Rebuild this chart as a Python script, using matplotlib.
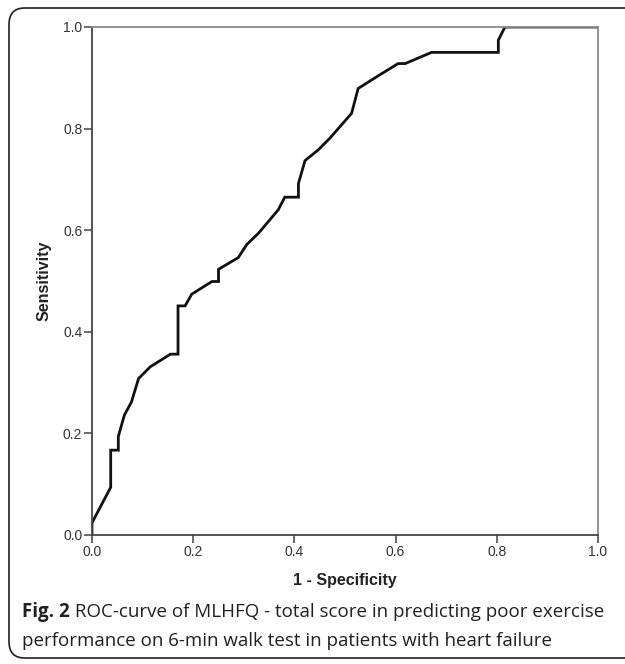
import matplotlib
matplotlib.use("Agg")
import matplotlib.pyplot as plt
from matplotlib.patches import FancyBboxPatch

# ROC curve points
fpr = [0, 0, 0.037, 0.037, 0.052, 0.052, 0.064, 0.078, 0.092, 0.115,
       0.155, 0.170, 0.170, 0.184, 0.197, 0.237, 0.250, 0.250, 0.289, 0.306,
       0.329, 0.368, 0.381, 0.408, 0.408, 0.421, 0.447, 0.470, 0.513, 0.526,
       0.569, 0.605, 0.619, 0.671, 0.803, 0.803, 0.816, 1.0]
tpr = [0, 0.024, 0.094, 0.167, 0.167, 0.194, 0.236, 0.262, 0.308, 0.331,
       0.356, 0.356, 0.451, 0.451, 0.474, 0.499, 0.499, 0.523, 0.546, 0.572,
       0.594, 0.640, 0.665, 0.665, 0.692, 0.737, 0.758, 0.781, 0.830, 0.879,
       0.906, 0.928, 0.928, 0.950, 0.950, 0.974, 1.0, 1.0]

ticks = [0.0, 0.2, 0.4, 0.6, 0.8, 1.0]
tick_labels = ["0.0", "0.2", "0.4", "0.6", "0.8", "1.0"]

caption_bold = "Fig. 2"
caption_line1 = " ROC-curve of MLHFQ - total score in predicting poor exercise"
caption_line2 = "performance on 6-min walk test in patients with heart failure"

W, H = 625, 664
fig = plt.figure(figsize=(W / 100, H / 100), dpi=100)

# rounded frame round the whole figure (right edge runs off the image)
frame = FancyBboxPatch((9 / W, 6 / H), 660 / W, 650 / H,
                       boxstyle="round,pad=0,rounding_size=0.025",
                       transform=fig.transFigure, fill=False,
                       edgecolor="#231f20", linewidth=1.2)
fig.patches.append(frame)

ax = fig.add_axes([92 / W, 1 - 535 / H, 506 / W, 508 / H])
ax.plot(fpr, tpr, color="#111111", linewidth=2.0, solid_joinstyle="miter")
ax.set_xlim(0, 1)
ax.set_ylim(0, 1)
ax.set_xticks(ticks)
ax.set_xticklabels(tick_labels)
ax.set_yticks(ticks)
ax.set_yticklabels(tick_labels)
ax.tick_params(direction="out", length=6, width=1.1, colors="#444444",
               labelcolor="#333333", labelsize=10, pad=1)
for name in ["left", "bottom"]:
    ax.spines[name].set_color("#444444")
    ax.spines[name].set_linewidth(1.3)
for name in ["top", "right"]:
    ax.spines[name].set_color("#8a8a8a")
    ax.spines[name].set_linewidth(1.3)

ax.set_xlabel("1 - Specificity", fontsize=11.5, fontweight="bold",
              family="Liberation Sans", color="#222222", labelpad=10)
ax.set_ylabel("Sensitivity", fontsize=11.5, fontweight="bold",
              family="Liberation Sans", color="#222222", labelpad=8)
for lab in ax.get_xticklabels() + ax.get_yticklabels():
    lab.set_family("Liberation Sans")

# caption with bold "Fig. 2" followed by regular text
cap_kw = dict(fontsize=13.5, family="Open Sans", color="#231f20", va="baseline")
t = fig.text(22 / W, 1 - 617 / H, caption_bold, fontweight="bold", **cap_kw)
fig.canvas.draw()
bb = t.get_window_extent(renderer=fig.canvas.get_renderer())
fig.text(bb.x1 / W, 1 - 617 / H, caption_line1, **cap_kw)
fig.text(22 / W, 1 - 646 / H, caption_line2, **cap_kw)

fig.savefig("out.png", dpi=100)
